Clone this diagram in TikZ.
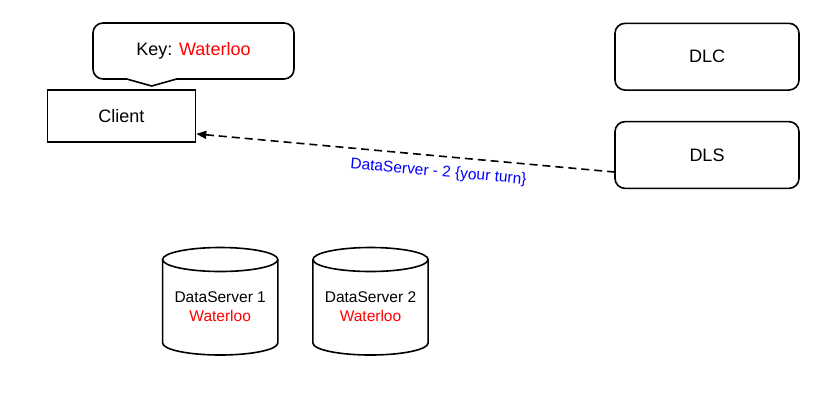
\documentclass[tikz,border=0pt]{standalone}
\usepackage{fontspec}
\setmainfont{Liberation Sans}
\usetikzlibrary{arrows.meta,calc}
\begin{document}
\begin{tikzpicture}[x=1pt,y=1pt,line width=1.6pt,
  bigtext/.style={font=\fontsize{18}{21}\selectfont},
  smalltext/.style={font=\fontsize{15.5}{19.3}\selectfont, align=center},
  plainbox/.style={draw, bigtext, minimum width=148pt, minimum height=51.7pt},
  roundbox/.style={draw, bigtext, rounded corners=10pt, minimum width=184pt, minimum height=66.7pt},
  conn/.style={dashed, dash pattern=on 8pt off 5pt, {Triangle[length=10pt,width=8pt]}-}]
\useasboundingbox (0,0) rectangle (835,-405);

% Key callout
\node[bigtext] (key) at (193.5,-51) {Key: \textcolor{red}{Waterloo}};
\draw (151.7,-86) -- (176.7,-79) [rounded corners=10pt] -- (294,-79) -- (294,-23) -- (93,-23) -- (93,-79) [sharp corners] -- (126.7,-79) -- cycle;

% Client, DLC, DLS
\node[plainbox] (client) at (121.5,-115.9) {Client};
\node[roundbox] (dlc) at (707,-56.7) {DLC};
\node[roundbox] (dls) at (707,-155) {DLS};

% Connector
\draw[conn] ([yshift=-18pt]client.east) -- node[pos=0.583, sloped, below=5pt, smalltext, text=blue] (lbl) {DataServer - 2 \{your turn\}} ([yshift=-17pt]dls.west);

% Cylinders
\foreach \cx/\nm/\lab in {220.2/ds1/DataServer 1, 370.5/ds2/DataServer 2}{
  \draw (\cx,-259.5) ellipse [x radius=57.6, y radius=12];
  \draw (\cx-57.6,-259.5) -- (\cx-57.6,-343) arc[start angle=180, end angle=360, x radius=57.6, y radius=12] -- (\cx+57.6,-259.5);
  \node[smalltext] (\nm) at (\cx,-306.5) {\lab\\\textcolor{red}{Waterloo}};
}
\end{tikzpicture}
\end{document}
